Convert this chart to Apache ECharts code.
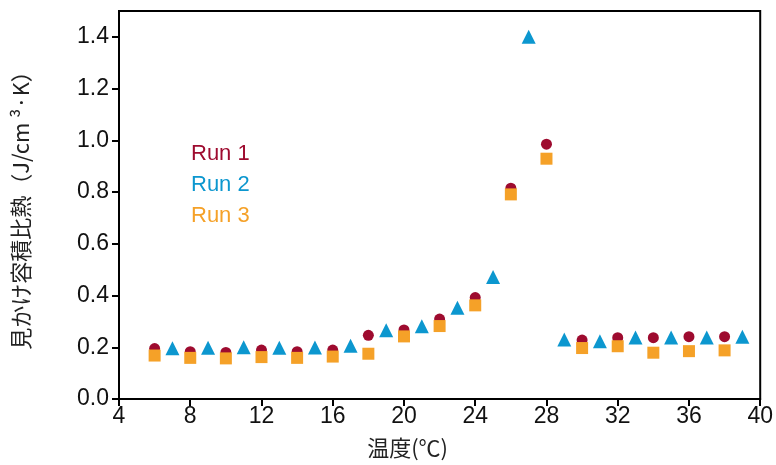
<!DOCTYPE html>
<html>
<head>
<meta charset="utf-8">
<script src="https://cdn.jsdelivr.net/npm/echarts@6/dist/echarts.min.js"></script>
<style>
html,body{margin:0;padding:0;background:#fff;}
#c{width:776px;height:465px;}
</style>
</head>
<body>
<div id="c"></div>
<script>
const run1X = [6, 8, 10, 12, 14, 16, 18, 20, 22, 24, 26, 28, 30, 32, 34, 36, 38];
const run1Y = [0.195, 0.183, 0.180, 0.189, 0.183, 0.189, 0.246, 0.267, 0.309, 0.392, 0.815, 0.985, 0.228, 0.237, 0.237, 0.241, 0.241];
const run2X = [7, 9, 11, 13, 15, 17, 19, 21, 23, 25, 27, 29, 31, 33, 35, 37, 39];
const run2Y = [0.196, 0.198, 0.200, 0.198, 0.199, 0.206, 0.266, 0.281, 0.353, 0.472, 1.40, 0.230, 0.223, 0.238, 0.238, 0.238, 0.241];
const run3X = [6, 8, 10, 12, 14, 16, 18, 20, 22, 24, 26, 28, 30, 32, 34, 36, 38];
const run3Y = [0.168, 0.159, 0.157, 0.162, 0.159, 0.164, 0.175, 0.242, 0.282, 0.362, 0.791, 0.929, 0.197, 0.204, 0.179, 0.185, 0.188];
const yTicks = [0, 0.2, 0.4, 0.6, 0.8, 1.0, 1.2, 1.4];
const seriesNames = ['Run 1', 'Run 2', 'Run 3'];
const colors = ['#9e0b2f', '#0c97cf', '#f5a128'];

const FONT = "'Liberation Sans Narrow','Arial Narrow','Liberation Sans',sans-serif";
const CJK = "'Noto Sans CJK JP',sans-serif";
const pair = (xs, ys) => xs.map((x, i) => [x, ys[i]]);

const chart = echarts.init(document.getElementById('c'), null, {renderer: 'canvas'});
chart.setOption({
  animation: false,
  grid: {left: 119, right: 14, top: 11, bottom: 66, show: true, borderColor: '#000', borderWidth: 2, backgroundColor: 'transparent'},
  legend: {
    orient: 'vertical', left: 186, top: 138, itemGap: 9, itemWidth: 0, itemHeight: 0,
    data: seriesNames.map((n, i) => ({name: n, icon: 'none', textStyle: {color: colors[i]}})),
    textStyle: {fontSize: 22, fontFamily: FONT, padding: [0, 0, 0, -5]},
    selectedMode: false
  },
  xAxis: {
    type: 'value', min: 4, max: 40, interval: 4,
    name: '温度(℃)', nameLocation: 'middle', nameGap: 38,
    nameTextStyle: {fontSize: 22, color: '#222', fontFamily: CJK, padding: [0, 64, 0, 0]},
    axisLine: {show: true, onZero: false, lineStyle: {color: '#000', width: 2}},
    axisTick: {show: true, inside: false, length: 7, lineStyle: {color: '#000', width: 2}},
    axisLabel: {fontSize: 23, color: '#111', fontFamily: FONT, margin: 6},
    splitLine: {show: false}
  },
  yAxis: {
    type: 'value', min: 0, max: 1.5, interval: 0.2,
    name: '見かけ容積比熱（J/cm ³·K）', nameLocation: 'middle', nameGap: 87, nameRotate: 90,
    nameTextStyle: {fontSize: 22, color: '#222', fontFamily: CJK},
    axisLine: {show: true, onZero: false, lineStyle: {color: '#000', width: 2}},
    axisTick: {show: true, inside: false, length: 7, lineStyle: {color: '#000', width: 2}, customValues: yTicks},
    axisLabel: {fontSize: 23, color: '#111', fontFamily: FONT, margin: 10, customValues: yTicks,
      formatter: v => v.toFixed(1)},
    splitLine: {show: false}
  },
  series: [
    {name: seriesNames[0], type: 'scatter', symbol: 'circle', symbolSize: 11, itemStyle: {color: colors[0], opacity: 1}, data: pair(run1X, run1Y)},
    {name: seriesNames[1], type: 'scatter', symbol: 'triangle', symbolSize: 14, itemStyle: {color: colors[1], opacity: 1}, data: pair(run2X, run2Y)},
    {name: seriesNames[2], type: 'scatter', symbol: 'rect', symbolSize: 12, itemStyle: {color: colors[2], opacity: 1}, data: pair(run3X, run3Y)}
  ]
});
</script>
</body>
</html>
